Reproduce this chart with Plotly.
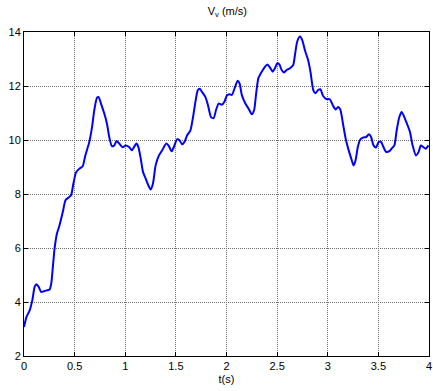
import plotly.graph_objects as go

# Vertical velocity trace, sampled from the simulation log
t_s = [0.0, 0.024, 0.056, 0.082, 0.105, 0.122, 0.145, 0.171, 0.203, 0.252, 0.269, 0.285,
       0.302, 0.325, 0.351, 0.383, 0.41, 0.442, 0.465, 0.488, 0.515, 0.547, 0.58, 0.606,
       0.645, 0.672, 0.694, 0.721, 0.737, 0.76, 0.793, 0.819, 0.842, 0.868, 0.891, 0.914,
       0.94, 0.973, 1.006, 1.038, 1.065, 1.087, 1.11, 1.13, 1.153, 1.176, 1.202, 1.228,
       1.251, 1.274, 1.3, 1.333, 1.365, 1.405, 1.431, 1.458, 1.48, 1.513, 1.536, 1.562,
       1.585, 1.611, 1.644, 1.667, 1.693, 1.716, 1.736, 1.758, 1.792, 1.817, 1.847, 1.873,
       1.896, 1.922, 1.955, 1.981, 2.004, 2.03, 2.053, 2.086, 2.109, 2.129, 2.151, 2.185,
       2.217, 2.25, 2.273, 2.293, 2.315, 2.348, 2.381, 2.404, 2.43, 2.456, 2.479, 2.502,
       2.522, 2.545, 2.568, 2.594, 2.627, 2.659, 2.676, 2.698, 2.725, 2.748, 2.774, 2.806,
       2.829, 2.857, 2.878, 2.905, 2.927, 2.954, 2.986, 3.02, 3.052, 3.079, 3.101, 3.124,
       3.15, 3.177, 3.202, 3.232, 3.255, 3.275, 3.297, 3.32, 3.347, 3.379, 3.406, 3.428,
       3.452, 3.477, 3.504, 3.527, 3.55, 3.576, 3.609, 3.635, 3.658, 3.681, 3.707, 3.73,
       3.756, 3.789, 3.812, 3.838, 3.871, 3.898, 3.919, 3.943, 3.969, 3.995]
v_v = [3.07, 3.44, 3.69, 4.06, 4.56, 4.66, 4.56, 4.37, 4.41, 4.46, 4.68, 5.30,
       5.98, 6.53, 6.84, 7.33, 7.77, 7.87, 7.95, 8.39, 8.81, 8.94, 9.03, 9.43,
       9.93, 10.48, 11.10, 11.57, 11.59, 11.35, 10.98, 10.61, 10.11, 9.77, 9.80, 9.96,
       9.87, 9.73, 9.80, 9.74, 9.62, 9.74, 9.87, 9.74, 9.31, 8.81, 8.57, 8.32,
       8.17, 8.39, 9.06, 9.43, 9.62, 9.87, 9.77, 9.58, 9.74, 10.03, 9.99, 9.84,
       9.93, 10.17, 10.36, 10.79, 11.41, 11.84, 11.90, 11.78, 11.59, 11.29, 10.85, 10.81,
       11.10, 11.35, 11.31, 11.43, 11.65, 11.69, 11.67, 11.98, 12.19, 12.10, 11.67, 11.36,
       11.17, 10.95, 11.11, 11.73, 12.29, 12.53, 12.72, 12.80, 12.68, 12.53, 12.66, 12.84,
       12.80, 12.59, 12.50, 12.59, 12.66, 12.78, 13.15, 13.64, 13.83, 13.70, 13.33, 12.96,
       12.53, 11.85, 11.73, 11.85, 11.88, 11.63, 11.52, 11.51, 11.27, 11.13, 11.22, 11.13,
       10.61, 10.05, 9.68, 9.31, 9.06, 9.25, 9.74, 10.01, 10.09, 10.11, 10.21, 10.11,
       9.80, 9.72, 9.93, 9.93, 9.74, 9.56, 9.59, 9.70, 9.80, 10.36, 10.85, 11.04,
       10.85, 10.54, 10.30, 9.80, 9.43, 9.56, 9.80, 9.74, 9.68, 9.80]

x_ticks = [0, 0.5, 1, 1.5, 2, 2.5, 3, 3.5, 4]
x_tick_text = ["0", "0.5", "1", "1.5", "2", "2.5", "3", "3.5", "4"]
y_ticks = [2, 4, 6, 8, 10, 12, 14]
y_tick_text = ["2", "4", "6", "8", "10", "12", "14"]

FONT = "Liberation Sans, Arial, sans-serif"

fig = go.Figure(
    go.Scatter(
        x=t_s, y=v_v, mode="lines",
        line=dict(color="#0000ff", width=2, shape="spline", smoothing=0.6),
        hoverinfo="skip",
    )
)

axis_style = dict(
    showline=True, linecolor="black", linewidth=1, mirror="ticks",
    ticks="inside", ticklen=4, tickcolor="black", tickwidth=1,
    showgrid=True, gridcolor="#707070", gridwidth=1, griddash="1px,1px",
    zeroline=False, ticklabeloverflow="allow",
    tickfont=dict(family=FONT, size=11, color="black"),
)

fig.update_xaxes(range=[0, 4], tickvals=x_ticks, ticktext=x_tick_text,
                 title=dict(text="t(s)", standoff=4,
                            font=dict(family=FONT, size=11, color="black")),
                 **axis_style)
fig.update_yaxes(range=[2, 14], tickvals=y_ticks, ticktext=y_tick_text, **axis_style)

fig.update_layout(
    width=433, height=391,
    margin=dict(l=24, r=1, t=32, b=35),
    paper_bgcolor="white", plot_bgcolor="white",
    showlegend=False,
    title=dict(text="V<sub>v</sub> (m/s)", x=0.525, xanchor="center", y=0.972, yanchor="middle",
               font=dict(family=FONT, size=11, color="black")),
)

fig.write_html("out.html")
